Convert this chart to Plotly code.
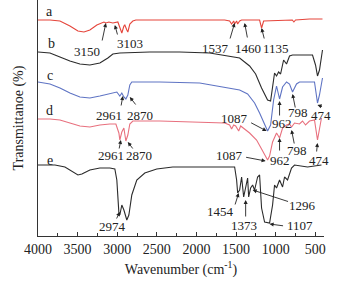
import plotly.graph_objects as go

# ---- data (wavenumber cm^-1, offset transmittance in arbitrary units) ----
wn_a = [4000, 3849, 3723, 3597, 3496, 3420, 3345, 3257, 3168, 3143, 3105, 3055, 2992, 2967, 2942, 2916,
        2904, 2879, 2866, 2841, 2803, 2765, 1644, 1581, 1556, 1530, 1518, 1493, 1480, 1455, 1430, 1203,
        1178, 1152, 790, 770, 749, 573, 409]
tr_a = [216, 216, 215, 210, 205, 204, 206, 211, 214, 213, 214, 213, 214, 209, 203, 210,
        211, 206, 204, 212, 215, 216, 216, 215, 212, 215, 212, 215, 212, 215, 216, 216,
        208, 215, 216, 214, 216, 217, 217]

wn_b = [4000, 3849, 3723, 3597, 3471, 3345, 3219, 3118, 3055, 2967, 2589, 2211, 1833, 1581, 1455,
        1329, 1253, 1178, 1127, 1102, 1064, 1026, 1014, 989, 963, 938, 900, 863, 825, 787, 535,
        497, 472, 447, 422, 409]
tr_b = [184, 183, 179, 175, 172, 171, 173, 178, 182, 183, 184, 184, 183, 180, 178,
        170, 162, 148, 139, 136, 135, 156, 163, 160, 164, 162, 176, 172, 180, 181, 181,
        171, 160, 166, 180, 186]

wn_c = [4000, 3849, 3723, 3597, 3471, 3345, 3219, 3093, 3005, 2967, 2942, 2916, 2891, 2866, 2841,
        2816, 2463, 1959, 1581, 1455, 1354, 1266, 1203, 1152, 1102, 1064, 1026, 989, 951, 913,
        863, 825, 787, 737, 699, 510, 472, 447, 422, 409]
tr_c = [154, 152, 148, 143, 139, 138, 140, 142, 144, 140, 143, 139, 137, 141, 151,
        154, 154, 153, 148, 146, 142, 133, 123, 114, 105, 111, 136, 150, 137, 149,
        154, 152, 144, 152, 154, 154, 133, 141, 151, 158]

wn_d = [4000, 3849, 3723, 3597, 3471, 3345, 3219, 3093, 3017, 2979, 2967, 2942, 2916, 2891, 2866,
        2841, 2803, 2463, 1959, 1644, 1581, 1556, 1530, 1505, 1467, 1442, 1329, 1241, 1178, 1127,
        1102, 1077, 1039, 989, 951, 913, 863, 825, 800, 762, 699, 661, 623, 573, 510, 472, 447, 422]
tr_d = [117, 117, 116, 113, 110, 109, 111, 112, 112, 103, 96, 104, 108, 95, 101,
        112, 115, 115, 114, 113, 111, 107, 111, 110, 105, 110, 103, 96, 87, 79,
        76, 80, 94, 103, 98, 108, 111, 112, 109, 113, 112, 115, 111, 115, 116, 96, 106, 118]

wn_e = [4000, 3786, 3660, 3572, 3496, 3446, 3345, 3219, 3093, 3030, 3005, 2979, 2967, 2942, 2916,
        2879, 2853, 2816, 2753, 2652, 2501, 2299, 1883, 1518, 1493, 1480, 1455, 1430, 1404, 1379,
        1354, 1341, 1316, 1291, 1266, 1228, 1203, 1178, 1140, 1077, 1039, 1014, 989, 951, 913,
        888, 850, 800, 762, 598, 510, 422]
tr_e = [71, 71, 69, 65, 61, 62, 66, 68, 68, 67, 56, 23, 21, 31, 26,
        16, 21, 41, 56, 63, 67, 69, 69, 69, 56, 43, 46, 59, 39, 48,
        58, 39, 48, 51, 46, 59, 61, 28, 14, 13, 31, 51, 48, 56, 49,
        59, 56, 68, 71, 69, 70, 71]

series_names = ["a", "b", "c", "d", "e"]
series_colors = ["#e5453b", "#2b2b2b", "#5f74c4", "#e8707e", "#2b2b2b"]

# curve letter labels: (text, wavenumber, transmittance)
letter_labels = [("a", 3849, 225), ("b", 3830, 193), ("c", 3849, 161), ("d", 3849, 126), ("e", 3849, 76)]

# peak labels: (text, text_wn, text_tr, tail_wn, tail_tr, tip_wn, tip_tr)
peak_labels = [
    ("3150", 3383, 185, 3194, 194, 3143, 213),
    ("3103", 2841, 193, 2992, 200, 3030, 211),
    ("1537", 1757, 188, 1581, 196, 1518, 213),
    ("1460", 1354, 188, 1354, 197, 1392, 213),
    ("1135", 1001, 188, 1140, 196, 1178, 208),
    ("2961", 3105, 121, 2954, 129, 2929, 140),
    ("2870", 2715, 121, 2753, 130, 2841, 139),
    ("1087", 1518, 118, 1329, 114, 1115, 105),
    ("962", 926, 113, 951, 119, 951, 135),
    ("798", 712, 124, 749, 127, 787, 142),
    ("474", 422, 121, 396, 129, 472, 131),
    ("2961", 3080, 81, 2979, 86, 2954, 96),
    ("2870", 2727, 81, 2790, 86, 2866, 94),
    ("1087", 1581, 81, 1392, 79, 1127, 75),
    ("962", 951, 76, 951, 84, 951, 98),
    ("798", 737, 86, 762, 91, 800, 106),
    ("474", 447, 76, 485, 83, 472, 93),
    ("2974", 3055, 10, 3017, 16, 2967, 24),
    ("1454", 1694, 25, 1518, 30, 1467, 43),
    ("1373", 1404, 11, 1379, 18, 1379, 36),
    ("1296", 661, 31, 825, 34, 1291, 46),
    ("1107", 699, 11, 888, 10, 1077, 12),
]

tick_vals = [4000, 3500, 3000, 2500, 2000, 1500, 1000, 500]

FONT = "Liberation Serif, Times New Roman, serif"

fig = go.Figure()
all_wn = [wn_a, wn_b, wn_c, wn_d, wn_e]
all_tr = [tr_a, tr_b, tr_c, tr_d, tr_e]
for name, col, xs, ys in zip(series_names, series_colors, all_wn, all_tr):
    fig.add_trace(go.Scatter(x=xs, y=ys, mode="lines", name=name,
                             line=dict(color=col, width=1.1), showlegend=False))

annotations = []
for t, x, y in letter_labels:
    annotations.append(dict(x=x, y=y, xref="x", yref="y", text=t, showarrow=False,
                            font=dict(family=FONT, size=14, color="#222")))
for t, tx, ty, ax, ay, px, py in peak_labels:
    annotations.append(dict(x=tx, y=ty, xref="x", yref="y", text=t, showarrow=False,
                            font=dict(family=FONT, size=13, color="#222")))
    annotations.append(dict(x=px, y=py, ax=ax, ay=ay, xref="x", yref="y", axref="x", ayref="y",
                            text="", showarrow=True, arrowhead=2, arrowsize=0.9, arrowwidth=0.9,
                            arrowcolor="#222", standoff=0, startstandoff=0))

fig.update_layout(
    width=346, height=286,
    margin=dict(l=38, r=22, t=0, b=50, autoexpand=False),
    paper_bgcolor="white", plot_bgcolor="white",
    font=dict(family=FONT, size=13, color="#222"),
    annotations=annotations,
    xaxis=dict(range=[4000, 390], tickvals=tick_vals, ticks="inside", ticklen=4, tickwidth=1,
               automargin=False,
               tickcolor="#333", showline=True, linecolor="#333", linewidth=1, showgrid=False,
               zeroline=False, tickfont=dict(family=FONT, size=14, color="#222"),
               minor=dict(tickvals=[3750, 3250, 2750, 2250, 1750, 1250, 750], ticks="inside",
                          ticklen=3, tickcolor="#333"),
               title=dict(text="Wavenumber (cm<sup>-1</sup>)", standoff=8,
                          font=dict(family=FONT, size=14, color="#222"))),
    yaxis=dict(range=[0, 236], showticklabels=False, ticks="", showline=True, linecolor="#333",
               automargin=False,
               linewidth=1, showgrid=False, zeroline=False,
               title=dict(text="Transmittanoe (%)", standoff=10,
                          font=dict(family=FONT, size=14, color="#222"))),
)

fig.write_html("out.html", config={"displayModeBar": False},
               post_script="document.body.style.margin='0';document.body.style.padding='0';")
